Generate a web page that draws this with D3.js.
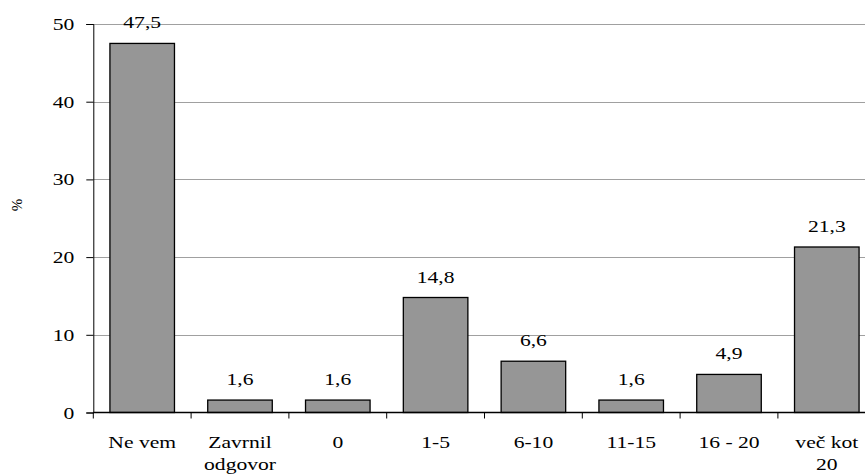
<!DOCTYPE html>
<html><head><meta charset="utf-8">
<script src="https://cdn.jsdelivr.net/npm/d3@7"></script>
<style>
html,body{margin:0;padding:0;background:#fff;overflow:hidden}
svg{display:block}
</style></head>
<body>
<svg id="chart" width="865" height="474"></svg>
<script>
(function(){
const categories = [["Ne vem"],["Zavrnil","odgovor"],["0"],["1-5"],["6-10"],["11-15"],["16 - 20"],["več kot","20"]];
const values = [47.5, 1.6, 1.6, 14.8, 6.6, 1.6, 4.9, 21.3];
const valueLabels = ["47,5","1,6","1,6","14,8","6,6","1,6","4,9","21,3"];
const yTicks = [0, 10, 20, 30, 40, 50];
const yTitle = "%";

const W = 865, H = 474;
const mLeft = 93.3, mTop = 24, mBottom = 412.5;
const band = 97.8;
const mRight = mLeft + band * categories.length;
const FS = 17, SX = 1.27;
const FONT = '"Liberation Serif", serif';

const svg = d3.select("#chart");
const x = d3.scaleBand().domain(d3.range(categories.length)).range([mLeft, mRight]).paddingInner(0.34).paddingOuter(0.17);
const y = d3.scaleLinear().domain([0, 50]).range([mBottom, mTop]);

function stxt(g, tx, ty, s, anchor) {
  return g.append("text").attr("transform", `translate(${tx},${ty}) scale(${SX},1)`)
    .attr("text-anchor", anchor || "middle").attr("font-size", FS)
    .style("font-family", FONT).attr("fill", "#000").text(s);
}

// gridlines
svg.append("g").selectAll("line").data(yTicks.filter(d => d > 0)).join("line")
  .attr("x1", mLeft).attr("x2", W).attr("y1", d => Math.round(y(d)) + 0.5).attr("y2", d => Math.round(y(d)) + 0.5)
  .attr("stroke", "#a0a0a0").attr("stroke-width", 1);

// bars
svg.append("g").selectAll("rect").data(values).join("rect")
  .attr("x", (d, i) => x(i)).attr("width", x.bandwidth())
  .attr("y", d => y(d)).attr("height", d => y(0) - y(d))
  .attr("fill", "#969696").attr("stroke", "#000").attr("stroke-width", 1.3);

// value labels
const vl = svg.append("g");
values.forEach((v, i) => stxt(vl, x(i) + x.bandwidth() / 2, y(v) - 15, valueLabels[i]));

// y axis
const yAxis = svg.append("g").attr("transform", `translate(${mLeft},0)`)
  .call(d3.axisLeft(y).tickValues(yTicks).tickSize(7).tickFormat(""));
yAxis.select(".domain").attr("stroke", "#000");
yAxis.selectAll(".tick line").attr("stroke", "#000");
const yl = svg.append("g");
yTicks.forEach(t => stxt(yl, mLeft - 19, y(t) + 6, String(t), "end"));

// x axis
const bounds = d3.range(categories.length + 1).map(i => mLeft + i * band);
svg.append("line").attr("x1", mLeft).attr("x2", W).attr("y1", mBottom).attr("y2", mBottom).attr("stroke", "#000").attr("stroke-width", 1.3);
svg.append("g").selectAll("line").data(bounds).join("line")
  .attr("x1", d => d).attr("x2", d => d).attr("y1", mBottom).attr("y2", mBottom + 6).attr("stroke", "#000");
const xl = svg.append("g");
categories.forEach((c, i) => c.forEach((s, j) => stxt(xl, x(i) + x.bandwidth() / 2, 448 + j * 22, s)));

// y title
svg.append("text").attr("transform", `translate(22,205) rotate(-90)`).attr("text-anchor", "middle")
  .attr("font-size", 15).style("font-family", FONT).text(yTitle);
})();
</script>
</body></html>
